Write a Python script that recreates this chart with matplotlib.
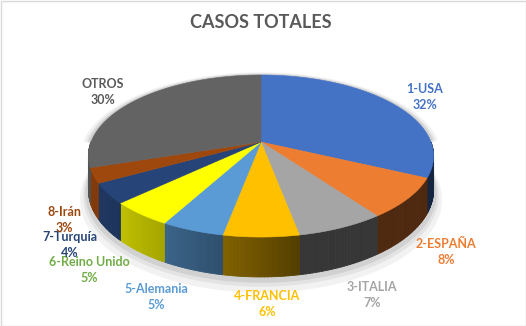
import numpy as np
import matplotlib.pyplot as plt
from matplotlib.collections import PolyCollection
from matplotlib.colors import to_rgb
from matplotlib.patches import Rectangle, Polygon

plt.rcParams['font.family'] = ['Lato', 'DejaVu Sans']

# casos totales por país (porcentaje)
paises = ["1-USA", "2-ESPAÑA", "3-ITALIA", "4-FRANCIA", "5-Alemania",
          "6-Reino Unido", "7-Turquía", "8-Irán", "OTROS"]
porcentajes = [32, 8, 7, 6, 5, 5, 4, 3, 30]
colores = ["#4472C4", "#ED7D31", "#A5A5A5", "#FFC000", "#5B9BD5",
           "#FFFF00", "#264478", "#9E480E", "#636363"]
colores_texto = ["#4472C4", "#ED7D31", "#A5A5A5", "#FFC000", "#5B9BD5",
                 "#70AD47", "#264478", "#9E480E", "#595959"]

# posiciones de las etiquetas (pixeles)
pos_etiquetas = [(425, 97), (446, 252), (372, 295), (267, 304), (156, 297),
                 (89, 270), (70, 245), (64, 220), (103, 92)]

W, H = 526, 326
fig = plt.figure(figsize=(W / 100, H / 100), dpi=100)
ax = fig.add_axes([0, 0, 1, 1])
ax.set_xlim(0, W)
ax.set_ylim(H, 0)
ax.axis("off")
ax.add_patch(Rectangle((0.5, 0.5), W - 1, H - 1, fill=False, ec="#D9D9D9", lw=1))

# proyección en perspectiva del disco
cx, cy = 261, 142
A, B, p = 170, 78.6, 0.173
grosor = 33


def proyectar(t, r=1.0, caida=0.0):
    u, v = r * np.cos(t), r * np.sin(t)
    w = 1 + p * v
    return cx + A * u / w, cy - B * v / w + caida / w


def oscurecer(c, f):
    return tuple(np.clip(np.array(to_rgb(c)) * f, 0, 1))


# sombra suave alrededor del pastel
ts = np.linspace(0, 2 * np.pi, 200)
for k, a in zip([8, 5, 3], [0.05, 0.06, 0.08]):
    x1, y1 = proyectar(ts, 1 + k / 170)
    x2, y2 = proyectar(ts, 1 + k / 170, grosor + k)
    xs = np.concatenate([x1[(y1 < cy)], x2[(y2 >= cy + 10)]])
    ys = np.concatenate([y1[(y1 < cy)], y2[(y2 >= cy + 10)]])
    ang = np.arctan2(-(ys - cy - 15), xs - cx)
    orden = np.argsort(ang)
    ax.add_patch(Polygon(np.column_stack([xs[orden], ys[orden]]), closed=True,
                         fc="black", ec="none", alpha=a, zorder=1))

frac = np.array(porcentajes) / sum(porcentajes)
bordes = np.radians(90 - 360 * np.concatenate([[0], np.cumsum(frac)]))

# caras laterales visibles (mitad delantera)
quads, cols = [], []
luz = np.radians(-170)
for i, c in enumerate(colores):
    t0, t1 = bordes[i], bordes[i + 1]
    a0, a1 = min(t0, -1e-6), max(t1, -np.pi)
    if a0 <= a1:
        continue
    tt = np.linspace(a0, a1, max(3, int(np.degrees(a0 - a1)) + 2))
    for ta, tb in zip(tt[:-1], tt[1:]):
        xa, ya = proyectar(ta)
        xb, yb = proyectar(tb)
        xa2, ya2 = proyectar(ta, 1, grosor)
        xb2, yb2 = proyectar(tb, 1, grosor)
        quads.append([(xa, ya), (xb, yb), (xb2, yb2), (xa2, ya2)])
        f = 0.33 + 0.5 * max(0.0, np.cos((ta + tb) / 2 - luz))
        cols.append(oscurecer(c, f))
ax.add_collection(PolyCollection(quads, facecolors=cols, edgecolors=cols,
                                 linewidths=0.6, zorder=2))

# caras superiores
for i, c in enumerate(colores):
    tt = np.linspace(bordes[i], bordes[i + 1], 80)
    xs, ys = proyectar(tt)
    pts = np.column_stack([np.r_[cx, xs], np.r_[cy, ys]])
    ax.add_patch(Polygon(pts, closed=True, fc=c, ec=c, lw=0.4, zorder=3))

# etiquetas
for nombre, pct, col, (x, y) in zip(paises, porcentajes, colores_texto, pos_etiquetas):
    ax.text(x, y, f"{nombre}\n{pct}%", color=col, fontsize=9, fontweight="bold",
            ha="center", va="center", linespacing=1.35, zorder=5)

ax.text(261, 22, "CASOS TOTALES", color="#595959", fontsize=13, fontweight="bold",
        ha="center", va="center")

fig.savefig("out.png", dpi=100)
